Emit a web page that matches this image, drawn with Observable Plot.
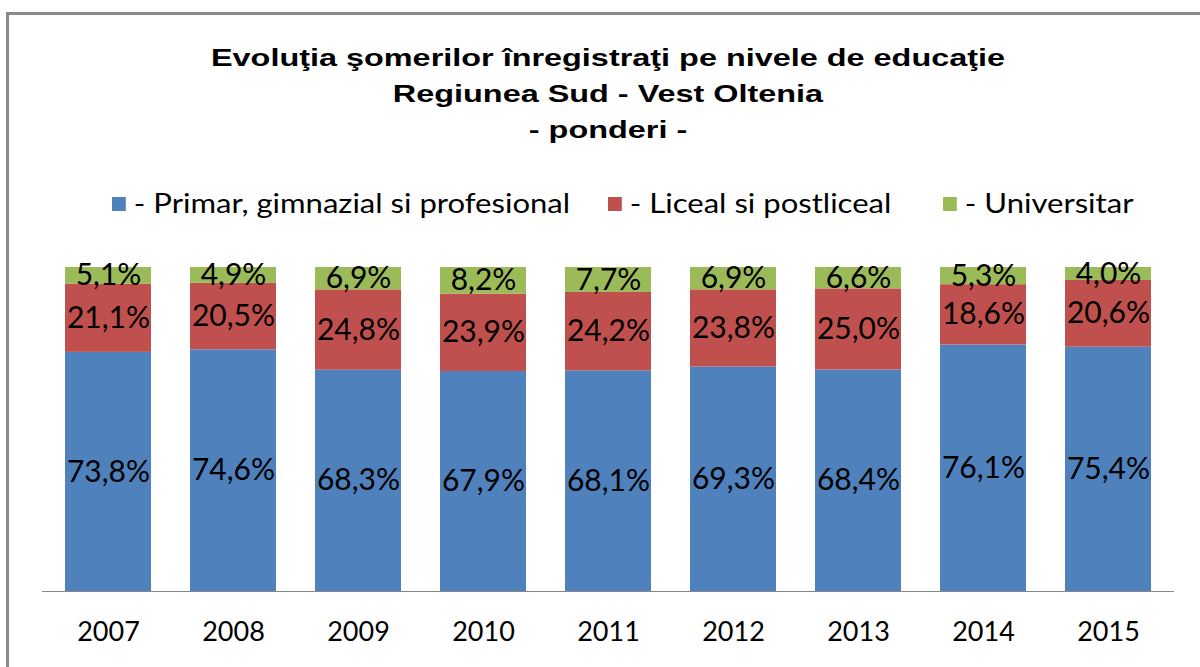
<!DOCTYPE html>
<html><head><meta charset="utf-8">
<script src="https://cdn.jsdelivr.net/npm/d3@7"></script>
<script src="https://cdn.jsdelivr.net/npm/@observablehq/plot@0.6"></script>
<style>
body{margin:0;width:1200px;height:667px;overflow:hidden;background:#fff;position:relative;}
#frame{position:absolute;left:6px;top:12px;width:1300px;height:800px;border:3px solid #8a8a8a;box-sizing:border-box}
#title{position:absolute;left:8px;width:1200px;top:40px;text-align:center;font:bold 24px "Liberation Sans",Arial,sans-serif;line-height:36px;color:#000;transform:scaleX(1.35);transform-origin:600px 0}
.leg{position:absolute;top:186px;font:27px Lato,sans-serif;color:#000;white-space:nowrap;line-height:34px;transform:scaleX(1.15);transform-origin:0 0}
.sw{display:inline-block;width:12px;height:14px;margin-right:7px;vertical-align:2px}
#chart{position:absolute;top:230px;left:0}
</style>
</head><body>
<div id="frame"></div>
<div id="title">Evoluţia şomerilor înregistraţi pe nivele de educaţie<br>Regiunea Sud - Vest Oltenia<br>- ponderi -</div>
<div id="legendBox"></div>
<div id="chart"></div>
<script>
const years = ["2007","2008","2009","2010","2011","2012","2013","2014","2015"];
const levels = ["- Primar, gimnazial si profesional","- Liceal si postliceal","- Universitar"];
const colors = ["#4F81BD","#C0504D","#9BBB59"];
const primar = [73.8,74.6,68.3,67.9,68.1,69.3,68.4,76.1,75.4];
const liceal = [21.1,20.5,24.8,23.9,24.2,23.8,25.0,18.6,20.6];
const universitar = [5.1,4.9,6.9,8.2,7.7,6.9,6.6,5.3,4.0];

const series = [primar, liceal, universitar];
const table = [];
series.forEach((vals, i) => vals.forEach((v, j) => table.push({year: years[j], level: levels[i], value: v})));
const fmt = v => v.toFixed(1).replace(".", ",") + "%";

// legend
const legX = [112, 608, 943];
const lb = document.getElementById("legendBox");
levels.forEach((l, i) => {
  const d = document.createElement("div");
  d.className = "leg";
  d.style.left = legX[i] + "px";
  d.innerHTML = `<span class="sw" style="background:${colors[i]}"></span>${l}`;
  lb.appendChild(d);
});

const plot = Plot.plot({
  width: 1200,
  height: 437,
  marginTop: 37,
  marginBottom: 76,
  marginLeft: 42,
  marginRight: 26,
  style: {fontFamily: "Lato, sans-serif", fontSize: "28px", color: "#000", background: "transparent"},
  x: {domain: years, paddingInner: 0.31, paddingOuter: 0.155, label: null},
  y: {domain: [0, 100], axis: null},
  color: {domain: levels, range: colors},
  marks: [
    Plot.barY(table, {x: "year", y: "value", fill: "level", order: levels}),
    Plot.text(table, Plot.stackY({x: "year", y: "value", z: "level", order: levels, text: d => fmt(d.value), fontSize: 30, fill: "#000"})),
    Plot.ruleY([0], {stroke: "#868686", strokeWidth: 1}),
    Plot.axisX({tickSize: 0, tickPadding: 30, fontSize: 27, fill: "#000", label: null})
  ]
});
document.getElementById("chart").appendChild(plot);
</script>
</body></html>
